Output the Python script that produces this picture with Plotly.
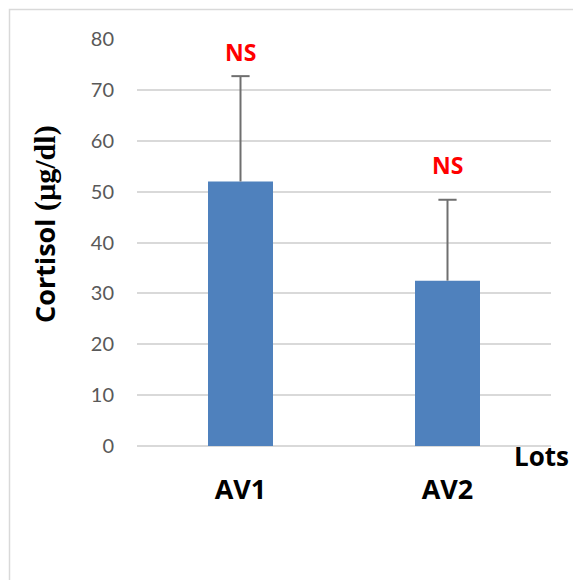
import plotly.graph_objects as go

# Data
lots = ["AV1", "AV2"]
cortisol_mean = [52.0, 32.5]
cortisol_err = [20.7, 15.9]
signif_labels = ["NS", "NS"]
signif_y = [77.5, 55.2]
y_ticks = [0, 10, 20, 30, 40, 50, 60, 70, 80]

W, H = 573, 580
ML, MR, MT, MB = 137, 22, 39, 134
PW, PH = W - ML - MR, H - MT - MB


def px_x(x):
    return (x - ML) / PW


def px_y(y):
    return (H - MB - y) / PH


fig = go.Figure()
fig.add_trace(go.Bar(
    x=lots,
    y=cortisol_mean,
    marker=dict(color="#4f81bd", line=dict(width=0)),
    showlegend=False,
    hoverinfo="x+y",
))

# upper-only error bars: stem from bar top plus a cap at the end
err_color = "#6f6f6f"
for lot, m, e in zip(lots, cortisol_mean, cortisol_err):
    fig.add_trace(go.Scatter(
        x=[lot, lot], y=[m, m + e], mode="lines",
        line=dict(color=err_color, width=2),
        showlegend=False, hoverinfo="skip",
    ))
    fig.add_trace(go.Scatter(
        x=[lot], y=[m + e], mode="markers",
        marker=dict(symbol="line-ew", size=13,
                    line=dict(color=err_color, width=2)),
        showlegend=False, hoverinfo="skip",
    ))

annotations = []
for lot, lab, ly in zip(lots, signif_labels, signif_y):
    annotations.append(dict(x=lot, y=ly, xref="x", yref="y", text=lab,
                            showarrow=False, yanchor="middle",
                            font=dict(family="Open Sans", size=23,
                                      color="#ff0000", weight="bold")))

annotations.append(dict(x=px_x(541), y=px_y(456), xref="paper", yref="paper",
                        text="Lots", showarrow=False,
                        xanchor="center", yanchor="middle",
                        font=dict(family="Open Sans", size=26,
                                  color="#000000", weight="bold")))

# y-axis title: sans-serif word followed by serif unit
annotations.append(dict(
    x=px_x(44), y=px_y(271), xref="paper", yref="paper",
    text="Cortisol", showarrow=False, textangle=-90,
    xanchor="center", yanchor="middle",
    font=dict(family="Open Sans", size=27, color="#000000", weight="bold")))
annotations.append(dict(
    x=px_x(45), y=px_y(168), xref="paper", yref="paper",
    text="(µg/dl)", showarrow=False, textangle=-90,
    xanchor="center", yanchor="middle",
    font=dict(family="Liberation Serif", size=30, color="#000000",
              weight="bold")))

fig.update_layout(
    width=W, height=H,
    margin=dict(l=ML, r=MR, t=MT, b=MB),
    paper_bgcolor="white", plot_bgcolor="white",
    bargap=0.686,
    annotations=annotations,
    shapes=[dict(type="rect", xref="paper", yref="paper",
                 x0=px_x(9.5), x1=px_x(W + 20), y0=px_y(H + 20), y1=px_y(9.5),
                 line=dict(color="#d9d9d9", width=1.5), layer="below")],
    xaxis=dict(showgrid=False, showline=False, zeroline=False,
               tickfont=dict(family="Open Sans", size=27, color="#000000",
                             weight="bold"),
               ticks="", ticklabelstandoff=25),
    yaxis=dict(range=[0, 80], tickvals=y_ticks, showgrid=True,
               gridcolor="#d9d9d9", gridwidth=2, zeroline=True,
               zerolinecolor="#d9d9d9", zerolinewidth=2, showline=False,
               tickfont=dict(family="Lato", size=20, color="#595959"),
               ticks="", ticklabelstandoff=22),
)

fig.write_html("out.html")
